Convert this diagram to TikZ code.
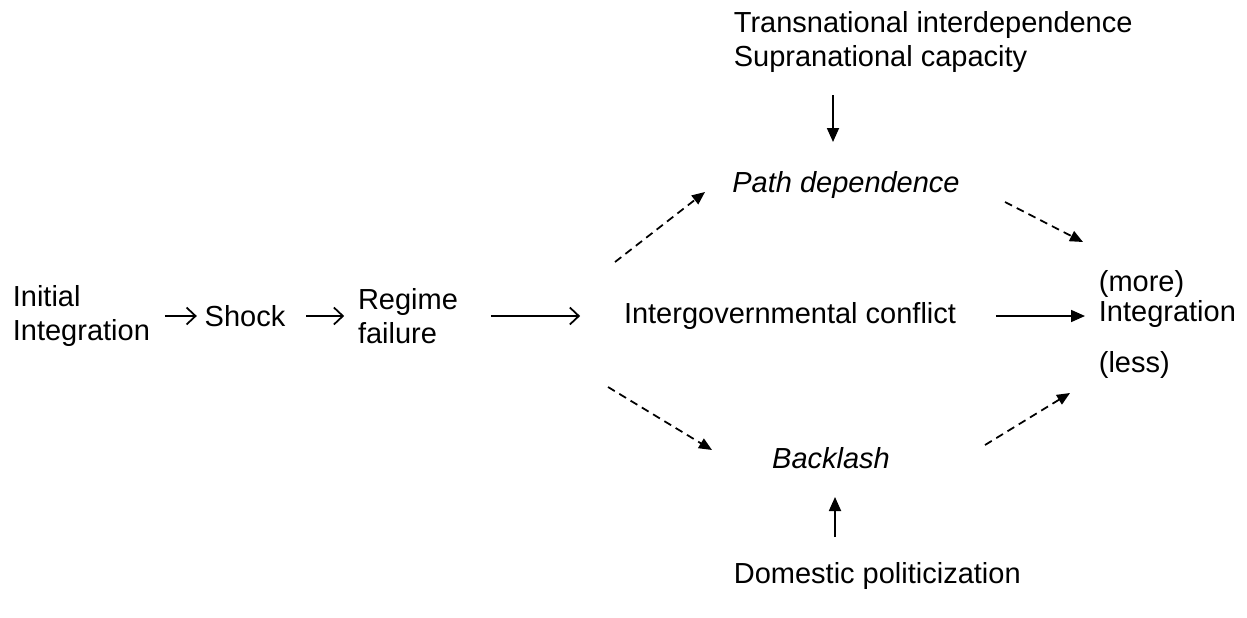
\documentclass[tikz,border=0pt]{standalone}
\usepackage{fontspec}
\setmainfont{Liberation Sans}
\usetikzlibrary{arrows.meta}

\begin{document}
\begin{tikzpicture}[
        every node/.style={inner sep=0pt, font=\fontsize{16.5}{19.5}\selectfont},
        line width=1pt,
        opentip/.style={-{Straight Barb[length=1.8mm,width=3.4mm]}},
        filltip/.style={-{Triangle[length=2.8mm,width=2.4mm]}},
        dashedtip/.style={-{Triangle[length=2.6mm,width=2.2mm]}, dash pattern=on 4.5pt off 3pt}
        ]
        \useasboundingbox (0,0) rectangle (24.94,12.34);

        % main chain
        \node (init) [anchor=west, align=left] at (0.24,6.02) {Initial\\Integration};
        \node (shock) at (4.90,6.02) {Shock};
        \node (regime) [align=left] at (8.16,6.02) {Regime\\failure};
        \node (conflict) at (15.80,6.02) {Intergovernmental conflict};

        % outcome
        \node (more) [anchor=west] at (21.96,6.66) {(more)};
        \node (integ) [anchor=west] at (21.96,6.06) {Integration};
        \node (less) [anchor=west] at (21.96,5.04) {(less)};

        % mechanisms
        \node (path) at (16.92,8.64) {\itshape Path dependence};
        \node (backlash) at (16.62,3.18) {\itshape Backlash};
        \node (factors) [anchor=west, align=left] at (14.66,11.50) {Transnational interdependence\\Supranational capacity};
        \node (domestic) [anchor=west] at (14.66,0.82) {Domestic politicization};

        % free ends of the side arrows
        \coordinate (fa) at (16.66,10.44);
        \coordinate (fb) at (16.66,9.50);
        \coordinate (da) at (16.70,1.60);
        \coordinate (db) at (16.70,2.40);
        \coordinate (pa) at (12.30,7.10);
        \coordinate (pb) at (14.10,8.50);
        \coordinate (pc) at (20.10,8.30);
        \coordinate (pd) at (21.66,7.50);
        \coordinate (ba) at (12.16,4.60);
        \coordinate (bb) at (14.24,3.34);
        \coordinate (bc) at (19.70,3.44);
        \coordinate (bd) at (21.40,4.48);

        \path[opentip]
        (init.east)     edge [shorten <=0.28cm, shorten >=0.14cm]  (init.east -| shock.west)
        (shock.east)    edge [shorten <=0.40cm, shorten >=0.26cm]  (shock.east -| regime.west)
        (regime.east)   edge [shorten <=0.64cm, shorten >=0.86cm]  (regime.east -| conflict.west)
        ;
        \path[filltip]
        (conflict.east) edge [shorten <=0.78cm, shorten >=0.26cm]  (conflict.east -| integ.west)
        (fa)            edge                                        (fb)
        (da)            edge                                        (db)
        ;

        % dashed paths via path dependence and backlash
        \path[dashedtip]
        (pa) edge (pb)
        (pc) edge (pd)
        (ba) edge (bb)
        (bc) edge (bd)
        ;
    \end{tikzpicture}
\end{document}
